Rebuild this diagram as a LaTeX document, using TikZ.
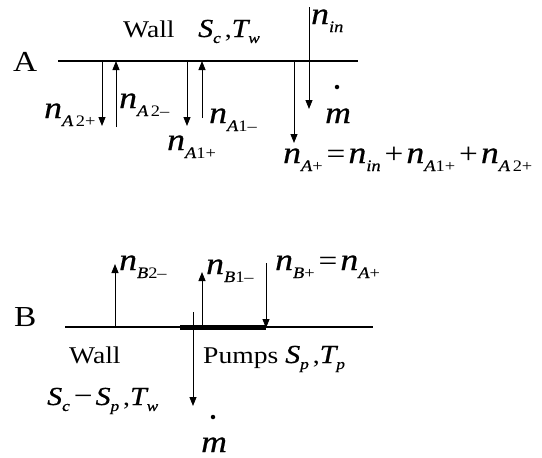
\documentclass[tikz,border=0pt]{standalone}
\usepackage{fontspec}
\setmainfont[FakeStretch=1.15,ItalicFeatures={FakeBold=0.6}]{Liberation Serif}
\usetikzlibrary{arrows.meta}
\newcommand\nv[1]{{\fontsize{31}{31}\selectfont\itshape n}\raisebox{-8pt}{\fontsize{16}{16}\selectfont #1}}
\newcommand\vv[2]{{\fontsize{26}{26}\selectfont\itshape #1}\raisebox{-6pt}{\fontsize{15}{15}\selectfont\itshape #2}}
\newcommand\op[1]{\hspace{4pt}{\fontsize{29}{29}\selectfont #1}\hspace{3pt}}
\begin{document}
\begin{tikzpicture}[x=1pt,y=-1pt,
  wall/.style={line width=2pt},
  pump/.style={line width=5pt},
  flow/.style={line width=0.9pt,-{Triangle[length=9pt,width=7pt]}},
  lbl/.style={inner sep=0pt,anchor=base west},
  txt/.style={inner sep=0pt,font=\fontsize{24}{24}\selectfont},
  big/.style={inner sep=0pt,font=\fontsize{29}{29}\selectfont},
  mm/.style={inner sep=0pt,anchor=base west,font=\fontsize{31}{31}\selectfont\itshape},
  dotm/.style={circle,fill,inner sep=0pt,minimum size=4.5pt}]
\useasboundingbox (0,0) rectangle (542,458);
% ---------- A ----------
\coordinate (wa1) at (58,61);
\coordinate (wa2) at (358,61);
\draw[wall] (wa1) -- (wa2);
\node[big,lbl] (labA) at (13,71) {A};
\node[txt,lbl] (wallA) at (123,37) {Wall};
\node[txt,lbl] (scA) at (198,37) {\vv{S}{c}\,,\vv{T}{w}};
% arrows
\coordinate (a2p0) at (102,61); \coordinate (a2p1) at (102,126);
\coordinate (a2m0) at (116,127); \coordinate (a2m1) at (116,61);
\coordinate (a1p0) at (187,61); \coordinate (a1p1) at (187,126);
\coordinate (a1m0) at (202,118); \coordinate (a1m1) at (202,61);
\coordinate (ap0) at (294,61); \coordinate (ap1) at (294,143);
\coordinate (in0) at (309,7); \coordinate (in1) at (309,109);
\draw[flow] (a2p0) -- (a2p1);
\draw[flow] (a2m0) -- (a2m1);
\draw[flow] (a1p0) -- (a1p1);
\draw[flow] (a1m0) -- (a1m1);
\draw[flow] (ap0) -- (ap1);
\draw[flow] (in0) -- (in1);
\node[lbl] (lA2p) at (44,118) {\nv{\textit{A}\,2+}};
\node[lbl] (lA2m) at (119,108) {\nv{\textit{A}\,2–}};
\node[lbl] (lA1p) at (167,150) {\nv{\textit{A}1+}};
\node[lbl] (lA1m) at (209,123) {\nv{\textit{A}1–}};
\node[lbl] (lin) at (311,24) {\nv{\textit{in}}};
\node[dotm] (dA) at (337,87) {};
\node[mm] (mA) at (325,123) {m};
\node[lbl] (eq) at (283,163) {\nv{\textit{A}+}\op{=}\nv{\textit{in}}\op{+}\nv{\textit{A}1+}\op{+}\nv{\textit{A}\,2+}};
% ---------- B ----------
\coordinate (wb1) at (65,327);
\coordinate (wb2) at (373,327);
\coordinate (pb1) at (180,327);
\coordinate (pb2) at (266,327);
\draw[wall] (wb1) -- (wb2);
\draw[pump] (pb1) -- (pb2);
\node[big,lbl] (labB) at (14,326) {B};
\coordinate (b2m0) at (115,327); \coordinate (b2m1) at (115,264);
\coordinate (b1m0) at (202,327); \coordinate (b1m1) at (202,272);
\coordinate (bp0) at (266,263); \coordinate (bp1) at (266,328);
\coordinate (bd0) at (193,312); \coordinate (bd1) at (193,406);
\draw[flow] (b2m0) -- (b2m1);
\draw[flow] (b1m0) -- (b1m1);
\draw[flow] (bp0) -- (bp1);
\draw[flow] (bd0) -- (bd1);
\node[lbl] (lB2m) at (119,270) {\nv{\textit{B}2–}};
\node[lbl] (lB1m) at (206,274) {\nv{\textit{B}1–}};
\node[lbl] (lBp) at (275,270) {\nv{\textit{B}+}\op{=}\nv{\textit{A}+}};
\node[txt,lbl] (wallB) at (69,363) {Wall};
\node[txt,lbl] (pumps) at (203,363) {Pumps \vv{S}{p}\,,\vv{T}{p}};
\node[txt,lbl] (wallBs) at (47,405) {\vv{S}{c}\op{−}\vv{S}{p}\,,\vv{T}{w}};
\node[dotm] (dB) at (213,417) {};
\node[mm] (mB) at (201,452) {m};
\end{tikzpicture}
\end{document}
